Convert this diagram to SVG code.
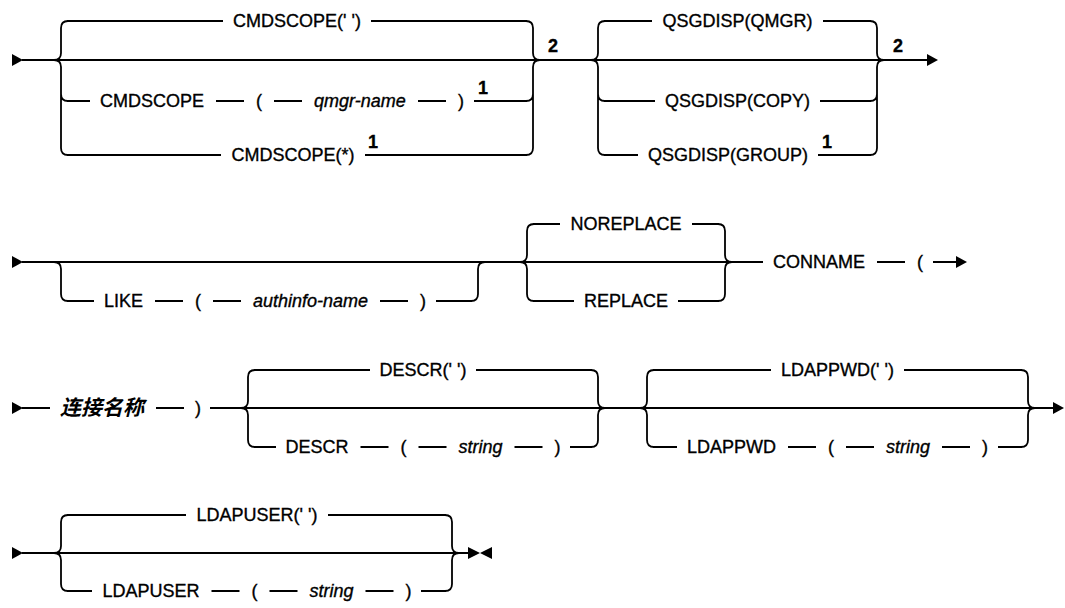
<svg xmlns="http://www.w3.org/2000/svg" xmlns:xlink="http://www.w3.org/1999/xlink" width="1065" height="608" viewBox="0 0 1065 608">
<style>
.t{font-family:"Liberation Sans",Arial,sans-serif;font-size:18px;fill:#000;stroke:#000;stroke-width:0.35}
.m{text-anchor:middle}
.i{font-style:italic}
.n{font-weight:bold}
.cjk{font-family:"Liberation Sans","Noto Sans CJK SC",sans-serif;font-size:21px;font-style:italic;font-weight:bold;fill:#000}
.l{fill:none;stroke:#000;stroke-width:1.8}
.a{fill:#000}
</style>
<defs>
<polygon id="ar" class="a" points="0,-6 0,6 11,0"/>
</defs>
<rect width="1065" height="608" fill="#fff"/>
<g id="connectors">
<!-- Row 1 -->
<use xlink:href="#ar" x="12" y="60"/>
<path class="l" d="M22,60 H928"/>
<use xlink:href="#ar" x="927" y="60"/>
<path class="l" d="M54,60 Q61,60 61,53 V28 Q61,21 68,21 M54,60 Q61,60 61,67 V148 Q61,155 68,155 M61,94 Q61,101 68,101"/>
<path class="l" d="M526,21 Q533,21 533,28 V53 Q533,60 540,60 M526,155 Q533,155 533,148 V67 Q533,60 540,60 M526,101 Q533,101 533,94"/>
<path class="l" d="M67,21 H223 M371,21 H527"/>
<path class="l" d="M67,101 H90 M216,101 H244 M274,101 H302 M418,101 H446 M474,101 H527"/>
<path class="l" d="M67,155 H221 M365,155 H527"/>
<path class="l" d="M591,60 Q598,60 598,53 V28 Q598,21 605,21 M591,60 Q598,60 598,67 V148 Q598,155 605,155 M598,94 Q598,101 605,101"/>
<path class="l" d="M870,21 Q877,21 877,28 V53 Q877,60 884,60 M870,155 Q877,155 877,148 V67 Q877,60 884,60 M870,101 Q877,101 877,94"/>
<path class="l" d="M604,21 H652 M823,21 H871 M604,101 H655 M820,101 H871 M604,155 H638 M818,155 H871"/>
<!-- Row 2 -->
<use xlink:href="#ar" x="12" y="262"/>
<path class="l" d="M22,262 H763"/>
<path class="l" d="M54,262 Q61,262 61,269 V294 Q61,301 68,301"/>
<path class="l" d="M67,301 H94 M155,301 H183 M213,301 H241 M380,301 H408 M436,301 H472"/>
<path class="l" d="M471,301 Q478,301 478,294 V269 Q478,262 485,262"/>
<path class="l" d="M520,262 Q527,262 527,255 V231 Q527,224 534,224 M520,262 Q527,262 527,269 V294 Q527,301 534,301"/>
<path class="l" d="M718,224 Q725,224 725,231 V255 Q725,262 732,262 M718,301 Q725,301 725,294 V269 Q725,262 732,262"/>
<path class="l" d="M533,224 H560 M692,224 H719 M533,301 H574 M678,301 H719"/>
<path class="l" d="M877,262 H905 M933,262 H957"/>
<use xlink:href="#ar" x="956" y="262"/>
<!-- Row 3 -->
<use xlink:href="#ar" x="12" y="408"/>
<path class="l" d="M22,408 H50 M156,408 H184 M210,408 H1054"/>
<use xlink:href="#ar" x="1053" y="408"/>
<path class="l" d="M241,408 Q248,408 248,401 V377 Q248,370 255,370 M241,408 Q248,408 248,415 V440 Q248,447 255,447"/>
<path class="l" d="M591,370 Q598,370 598,377 V401 Q598,408 605,408 M591,447 Q598,447 598,440 V415 Q598,408 605,408"/>
<path class="l" d="M254,370 H370 M476,370 H592"/>
<path class="l" d="M254,447 H276 M360.5,447 H388.5 M418.5,447 H446.5 M514.5,447 H542.5 M570,447 H592"/>
<path class="l" d="M640,408 Q647,408 647,401 V377 Q647,370 654,370 M640,408 Q647,408 647,415 V440 Q647,447 654,447"/>
<path class="l" d="M1021,370 Q1028,370 1028,377 V401 Q1028,408 1035,408 M1021,447 Q1028,447 1028,440 V415 Q1028,408 1035,408"/>
<path class="l" d="M653,370 H771 M904,370 H1022"/>
<path class="l" d="M653,447 H677 M788,447 H816 M846,447 H874 M942,447 H970 M998,447 H1022"/>
<!-- Row 4 -->
<use xlink:href="#ar" x="12" y="553"/>
<path class="l" d="M22,553 H468"/>
<polygon class="a" points="468,547 468,559 480,553"/>
<polygon class="a" points="492,547 492,559 480,553"/>
<path class="l" d="M54,553 Q61,553 61,546 V522 Q61,515 68,515 M54,553 Q61,553 61,560 V584 Q61,591 68,591"/>
<path class="l" d="M445,515 Q452,515 452,522 V546 Q452,553 459,553 M445,591 Q452,591 452,584 V560 Q452,553 459,553"/>
<path class="l" d="M67,515 H186 M328,515 H446"/>
<path class="l" d="M67,591 H92 M211.5,591 H239.5 M269.5,591 H297.5 M365.5,591 H393.5 M421,591 H446"/>
</g>
<g id="cmdscope-default"><text class="t m" x="297" y="27">CMDSCOPE(' ')</text></g>
<g id="cmdscope-qmgr"><text class="t" x="100" y="107">CMDSCOPE</text><text class="t" x="256" y="107">(</text><text class="t i" x="314" y="107">qmgr-name</text><text class="t" x="458" y="107">)</text><text class="t n" x="478" y="94">1</text></g>
<g id="cmdscope-star"><text class="t m" x="293" y="161">CMDSCOPE(*)</text><text class="t n" x="368" y="148">1</text></g>
<g id="note-2a"><text class="t n" x="548" y="52">2</text></g>
<g id="qsgdisp-qmgr"><text class="t m" x="737.5" y="27">QSGDISP(QMGR)</text></g>
<g id="qsgdisp-copy"><text class="t m" x="737.5" y="107">QSGDISP(COPY)</text></g>
<g id="qsgdisp-group"><text class="t m" x="728" y="161">QSGDISP(GROUP)</text><text class="t n" x="822" y="148">1</text></g>
<g id="note-2b"><text class="t n" x="893" y="52">2</text></g>
<g id="like"><text class="t" x="104" y="307">LIKE</text><text class="t" x="195" y="307">(</text><text class="t i" x="253" y="307">authinfo-name</text><text class="t" x="420" y="307">)</text></g>
<g id="noreplace"><text class="t m" x="626" y="230">NOREPLACE</text></g>
<g id="replace"><text class="t m" x="626" y="307">REPLACE</text></g>
<g id="conname"><text class="t" x="773" y="268">CONNAME</text><text class="t" x="917" y="268">(</text></g>
<g id="conname-value"><text class="cjk" x="60" y="415">连接名称</text><text class="t" x="195" y="414">)</text></g>
<g id="descr-default"><text class="t m" x="423" y="376">DESCR(' ')</text></g>
<g id="descr"><text class="t" x="285.5" y="453">DESCR</text><text class="t" x="400.5" y="453">(</text><text class="t i" x="458.5" y="453">string</text><text class="t" x="554.5" y="453">)</text></g>
<g id="ldappwd-default"><text class="t m" x="837.5" y="376">LDAPPWD(' ')</text></g>
<g id="ldappwd"><text class="t" x="687" y="453">LDAPPWD</text><text class="t" x="828" y="453">(</text><text class="t i" x="886" y="453">string</text><text class="t" x="982" y="453">)</text></g>
<g id="ldapuser-default"><text class="t m" x="257" y="521">LDAPUSER(' ')</text></g>
<g id="ldapuser"><text class="t" x="102.5" y="597">LDAPUSER</text><text class="t" x="251.5" y="597">(</text><text class="t i" x="309.5" y="597">string</text><text class="t" x="405.5" y="597">)</text></g>
</svg>
